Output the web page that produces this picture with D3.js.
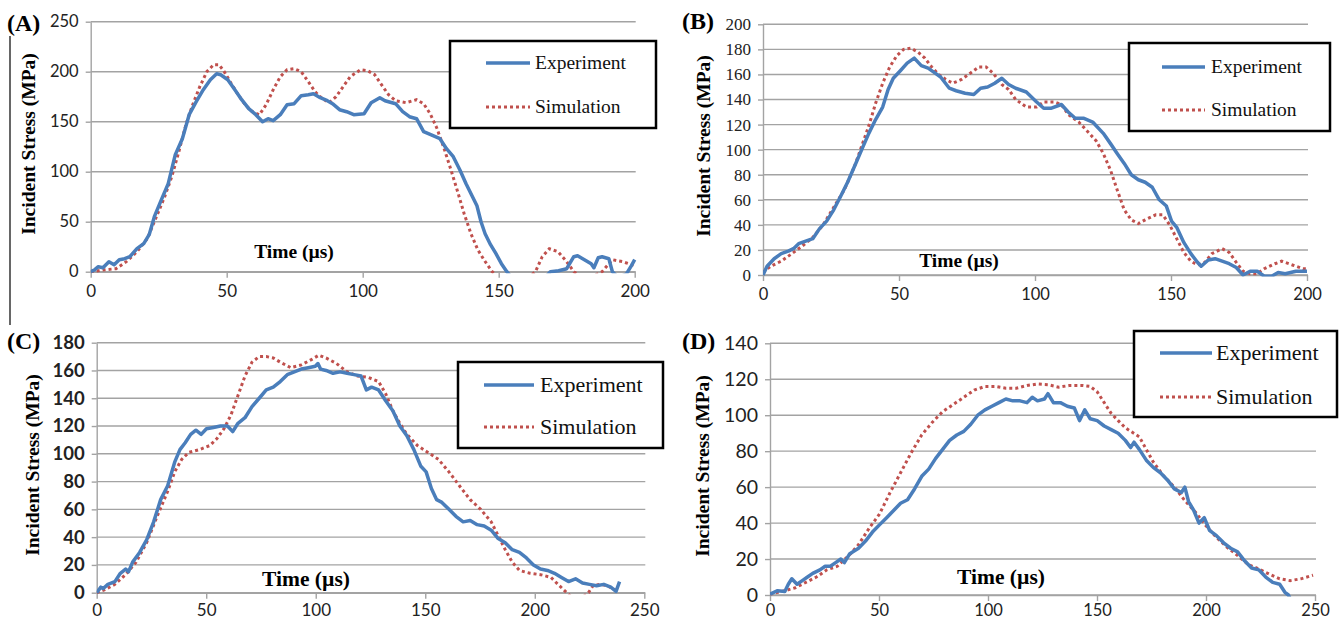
<!DOCTYPE html>
<html>
<head>
<meta charset="utf-8">
<script src="https://cdn.jsdelivr.net/npm/d3@7"></script>
<style>
body { margin: 0; background: #fff; }
</style>
</head>
<body>
<svg id="chart" width="1339" height="621"></svg>
<script>
// ---- data: [time (µs), incident stress (MPa)] ----
const seriesNames = ["Experiment", "Simulation"];

const xTicksA = [0, 50, 100, 150, 200];
const yTicksA = [0, 50, 100, 150, 200, 250];
const expA = [[0,0],[1.5,2],[2.8,5],[4.5,4],[6.7,10],[8.6,7],[10.5,12],[12.5,13],[14.4,15],[17,23],[19.5,28],[21.5,37],[23.4,55],[26,72],[28.5,88],[31.1,117],[33.7,133],[36.2,157],[38.8,170],[41.4,182],[44,192],[46.3,198],[47.8,197],[50.4,192],[53,182],[55.5,172],[58.1,163],[60.7,157],[63.2,150],[65.2,153],[67.1,151],[69.7,157],[72.2,167],[74.8,168],[77.4,176],[80,177],[81.9,178],[84.4,174],[87,171],[88.9,168],[91.5,162],[94.1,160],[96.7,157],[100.5,158],[103.1,169],[106.3,174],[108.2,171],[112.1,168],[114.7,160],[117.2,155],[119.8,153],[122.4,140],[125,137],[128.4,133],[130.8,123],[133.3,115],[135.7,102],[138,88],[140,77],[142,66],[143.5,50],[145,38],[147,27],[149,18],[151,8],[153,0],[156,-10],[162,-15],[167,-6],[169,0],[172,1],[175,3],[177.6,15],[179,16],[181.5,12],[184,8],[185,4],[186.6,14],[188,15],[190.5,13],[191.8,0],[194,-6],[197,-2],[198.8,6],[200,12]];
const simA = [[0,0],[5.4,2],[9.3,3],[13.1,10],[17,20],[20.8,33],[23.4,50],[27.2,75],[29.8,95],[32.4,120],[35,147],[37.5,167],[40.1,185],[42.7,200],[45.2,207],[47.2,207],[49.1,200],[51.7,188],[54.2,177],[56.8,167],[59.4,160],[62,157],[64.5,167],[67.1,182],[69.7,195],[72.2,202],[74.8,203],[77.4,200],[80,190],[82.5,180],[85.1,173],[87.7,169],[90.2,175],[92.8,185],[95.4,195],[99.2,202],[101.8,201],[104.4,197],[106.9,187],[109.5,177],[112.1,171],[115.9,169],[119.8,172],[122.4,168],[124.8,158],[127.2,144],[129.7,125],[132.2,104],[134.8,81],[137.3,58],[139.8,38],[142.3,22],[144.8,11],[147.6,0],[152,-10],[158,-12],[163.5,0],[166,15],[168.6,23],[171.8,20],[175,10],[177.6,0],[181,-6],[185,-4],[188,0],[191.8,12],[195.6,10],[200,6]];

const xTicksB = [0, 50, 100, 150, 200];
const yTicksB = [0, 20, 40, 60, 80, 100, 120, 140, 160, 180, 200];
const expB = [[0,0],[1.5,7],[4.1,13],[6.7,17],[9.3,19],[11.2,21],[13.1,25],[15.7,27],[18.3,29],[20.8,37],[23.4,43],[26,52],[28.6,63],[31.1,74],[33.7,87],[36.3,100],[38.9,113],[41.4,124],[44,134],[46,148],[47.9,157],[50.5,163],[53,169],[55.6,173],[58.2,167],[60.7,165],[63.3,161],[65.3,158],[68.5,149],[71,147],[74.3,145],[77.5,144],[80,149],[82.6,150],[85.2,153],[87.8,157],[90.3,152],[92.9,149],[96.8,146],[100.6,138],[103.2,133],[105.8,133],[109.7,136],[112.2,130],[114.8,125],[118,125],[121.2,122],[125.1,113],[127.7,105],[130.2,97],[132.8,89],[135.4,80],[138,76],[140.5,74],[143.1,70],[145.7,60],[148.3,55],[150.2,43],[152.1,38],[154.7,26],[157.3,17],[159.8,10],[161.1,7],[163.7,12],[166.2,13],[168.8,11],[171.4,9],[174,6],[176.5,0],[179.1,3],[181.7,3],[184.3,-1],[187,-1],[189.4,2],[192,1],[195.9,3],[200,3]];
const simB = [[0,2],[2.8,7],[6.7,11],[10.6,17],[14.4,23],[18.3,30],[22.1,40],[26,54],[29.9,68],[33.7,87],[36.3,103],[38.9,119],[41.4,137],[44,153],[46.6,166],[49.2,175],[51.7,180],[54.3,181],[56.9,178],[59.5,173],[62,166],[64.6,160],[67.2,156],[69.8,153],[73,156],[76.2,161],[79.4,166],[82,166],[84.6,161],[87.8,152],[90.3,148],[92.9,140],[96.8,134],[100.6,134],[103.2,138],[107.1,138],[109.7,136],[112.2,128],[116.1,122],[118.7,116],[122.5,107],[125.1,97],[127.7,84],[130.2,68],[132.8,52],[135.4,44],[138,41],[140.5,44],[144.4,48],[147,48],[149.5,40],[152.1,29],[154.7,18],[157.3,11],[159.8,8],[162.4,10],[165,17],[168.8,21],[171.4,18],[174,10],[176.5,3],[179.1,1],[181.7,1],[184.3,5],[188.2,9],[190.7,11],[194.6,8],[198.5,5],[200,5]];

const xTicksC = [0, 50, 100, 150, 200, 250];
const yTicksC = [0, 20, 40, 60, 80, 100, 120, 140, 160, 180];
const expC = [[0,0],[1.9,4],[3,3],[5.1,6],[8.3,8],[10.8,14],[13.2,17],[14.5,15],[16.4,22],[19.6,29],[22.8,38],[26,51],[29.2,67],[32.4,77],[35.6,94],[38,103],[40.4,108],[42.9,114],[45.3,117],[47.7,114],[50.1,118],[53.3,119],[56.5,120],[59.7,120],[62.1,116],[64.5,122],[67.7,126],[70.9,134],[74.2,140],[77.4,146],[80.6,148],[83.8,152],[87,157],[90.2,159],[93.4,161],[96.6,162],[99.8,163],[101,165],[102.2,161],[104.7,160],[107.9,158],[111.1,159],[114.3,158],[117.5,157],[120.7,156],[123.1,146],[125.5,148],[128.7,146],[132,138],[135.2,131],[138.4,120],[141.6,113],[144.8,103],[148,91],[150.4,87],[152.8,75],[155.2,67],[157.6,65],[160.8,60],[164,55],[167.3,51],[170.5,52],[173.7,49],[176.9,48],[180.1,45],[183.3,39],[186.5,36],[189.7,31],[193,29],[196.2,25],[199.4,20],[202.6,17],[205.8,16],[209,14],[212.2,11],[215.4,8],[218.6,10],[221.8,7],[225,6],[228.2,5],[231.5,6],[234.7,4],[237.1,1],[238.7,8]];
const simC = [[0,0],[3.5,2],[8.3,6],[13.2,13],[18,22],[22.8,36],[27.6,55],[32.4,73],[35.6,87],[38.8,96],[42,101],[46.9,103],[51.7,106],[54.9,111],[58.1,118],[61.3,128],[64.5,142],[67.7,156],[70.9,166],[74.2,170],[77.4,170],[80.6,169],[83.8,166],[88.6,162],[93.4,164],[98.2,168],[101.4,171],[104.7,169],[109.5,165],[114.3,159],[119.1,156],[124,155],[128.7,152],[132,143],[135.2,131],[138.4,122],[141.6,114],[146.4,106],[151.2,101],[156,96],[160.8,87],[165.6,77],[170.5,67],[175.3,60],[180.1,51],[183.3,41],[186.5,31],[189.7,22],[193,16],[197.8,14],[202.6,13],[207.4,11],[210.6,6],[214.6,0],[218,-5],[222,-3],[224.5,0],[226.6,5],[229.9,6],[233.1,5],[237.9,1]];

const xTicksD = [0, 50, 100, 150, 200, 250];
const yTicksD = [0, 20, 40, 60, 80, 100, 120, 140];
const expD = [[0,0.5],[3.5,2.4],[6.8,2],[8.4,6],[10,9],[12.4,6],[14.8,8],[17.2,10],[19.6,12],[22.9,14],[25.3,16],[27.7,16],[30.1,18],[32.5,20],[34.1,18],[36.6,23],[40.6,26],[43.8,30],[47,35],[50.2,39],[53.5,43],[56.7,47],[59.9,51],[63.1,53],[66.3,59],[69.6,66],[72.8,70],[76,76],[79.2,81],[82.4,86],[85.7,89],[88.9,91],[92.1,95],[95.3,100],[98.6,103],[101.8,105],[105,107],[108.2,109],[111.4,108],[114.7,108],[117.9,107],[120.3,110],[122.7,108],[125.9,109],[127.5,112],[130,107],[133.2,107],[136.4,105],[139.6,104],[142,97],[144.4,103],[146.9,98],[150.1,97],[153.3,94],[156.5,92],[159.7,90],[163,86],[165.4,82],[167,85],[169.4,81],[172.6,75],[175.8,71],[179.1,68],[182.3,64],[185.5,59],[188.7,57],[190.3,60],[192,52],[194.4,47],[196.8,40],[199.2,43],[201.6,36],[204.8,33],[208.1,29],[211.3,26],[214.5,24],[217.7,19],[220.9,15],[224.2,14],[227.4,10],[230.6,7],[233.8,6],[236.2,1.5],[237.8,0],[239,-3]];
const simD = [[0,0.5],[6.8,2.4],[11.6,4],[16.4,7],[21.3,10],[26.1,14],[30.9,16],[37,23],[40.6,28],[45.4,37],[50.2,45],[55.1,57],[59.9,68],[64.7,79],[69.6,89],[74.4,96],[79.2,102],[84.1,106],[88.9,110],[93.7,114],[98.6,116],[103.4,116],[108.2,115],[113,115],[117.9,116.5],[122.7,117.4],[127.5,117],[132.4,115.6],[137.2,116.5],[143.6,116.5],[146.9,116],[150.1,113],[153.3,107],[156.5,101],[159.7,97],[163,93],[166.2,90.5],[169.4,88],[172.6,81],[175.8,74],[180.7,66],[185.5,60],[190.3,52.5],[195.2,46],[199.9,38.6],[204.8,32],[209.7,26.5],[214.5,22],[219.3,17],[224.2,14.5],[228.9,11.7],[233.8,9],[238.6,8],[243.5,9],[249.1,11]];

// ---- layout ----
const blue = '#4a7ebb', red = '#c0504d', grid = '#a3a3a3';
const serif = '"Liberation Serif", "Times New Roman", serif';
const sans = 'Lato, "Liberation Sans", sans-serif';

const panels = [
  { label:'(A)', exp:expA, sim:simA, xTicks:xTicksA, yTicks:yTicksA,
    px:[90.7, 634.7], py:[271.7, 21.7], labelPos:[7, 31],
    yTitle:[28, 144, 19.5], xTitle:[294, 258, 19.5], tickFont:[sans, 16.5, 'normal'], xTickFs:17, xPad:7,
    legend:{x:450, y:41, w:206, h:87, l1:486, l2:530, tx:535, ey:63, sy:107, fs:19.5} },
  { label:'(B)', exp:expB, sim:simB, xTicks:xTicksB, yTicks:yTicksB,
    px:[763, 1307], py:[275, 24.3], labelPos:[682, 29],
    yTitle:[703, 146, 19.5], xTitle:[959, 267, 19.5], tickFont:[serif, 17, 'normal'], xTickFs:16.5, xPad:7,
    legend:{x:1129, y:43, w:201, h:88, l1:1162, l2:1205, tx:1211, ey:67, sy:110, fs:19.5} },
  { label:'(C)', exp:expC, sim:simC, xTicks:xTicksC, yTicks:yTicksC,
    px:[96.7, 644.3], py:[592.7, 342.7], labelPos:[7, 349],
    yTitle:[32, 465, 19.5], xTitle:[306, 586, 21.5], tickFont:[sans, 18.5, 'bold'], xTickFs:17, xPad:5,
    legend:{x:458, y:362, w:205, h:86, l1:484, l2:534, tx:540, ey:385, sy:427, fs:22} },
  { label:'(D)', exp:expD, sim:simD, xTicks:xTicksD, yTicks:yTicksD,
    px:[770, 1315], py:[595, 343.3], labelPos:[682, 349],
    yTitle:[702, 466, 19.5], xTitle:[1001, 584, 21.5], tickFont:[sans, 19.5, 'normal'], xTickFs:16.5, xPad:3,
    legend:{x:1134, y:331, w:203, h:86, l1:1160, l2:1212, tx:1216, ey:353, sy:397, fs:22} }
];

const svg = d3.select('#chart');
svg.append('rect').attr('width', 1339).attr('height', 621).attr('fill', '#fff');

// stray frame line at the left of panel A
svg.append('line').attr('x1', 10).attr('x2', 10).attr('y1', 36).attr('y2', 325)
  .attr('stroke', '#000').attr('stroke-width', 1.2);

panels.forEach((p, i) => {
  const x = d3.scaleLinear().domain([0, d3.max(p.xTicks)]).range(p.px);
  const y = d3.scaleLinear().domain([0, d3.max(p.yTicks)]).range(p.py);
  const g = svg.append('g');

  // horizontal gridlines
  g.append('g').selectAll('line').data(p.yTicks).join('line')
    .attr('x1', p.px[0]).attr('x2', p.px[1] + 1)
    .attr('y1', d => y(d)).attr('y2', d => y(d))
    .attr('stroke', grid).attr('stroke-width', 1.4);

  // y axis
  const yAxis = g.append('g').attr('transform', `translate(${p.px[0]},0)`)
    .call(d3.axisLeft(y).tickValues(p.yTicks).tickSize(5).tickSizeOuter(0).tickPadding(7));
  yAxis.select('.domain').attr('stroke', grid).attr('stroke-width', 1.4);
  yAxis.selectAll('.tick line').attr('stroke', grid).attr('stroke-width', 1.4);
  yAxis.selectAll('.tick text').attr('font-family', p.tickFont[0]).attr('font-size', p.tickFont[1])
    .attr('font-weight', p.tickFont[2]).attr('fill', '#222');

  // x axis
  const xAxis = g.append('g').attr('transform', `translate(0,${p.py[0]})`)
    .call(d3.axisBottom(x).tickValues(p.xTicks).tickSize(6).tickSizeOuter(0).tickPadding(p.xPad));
  xAxis.select('.domain').attr('stroke', grid).attr('stroke-width', 1.4);
  xAxis.selectAll('.tick line').attr('stroke', grid).attr('stroke-width', 1.4);
  xAxis.selectAll('.tick text').attr('font-family', sans).attr('font-size', p.xTickFs).attr('fill', '#222');

  // clip lines to the plot area (values below 0 are hidden, as in the original)
  const clipId = 'clip' + i;
  svg.append('clipPath').attr('id', clipId).append('rect')
    .attr('x', p.px[0]).attr('y', p.py[1] - 10)
    .attr('width', p.px[1] - p.px[0] + 3).attr('height', p.py[0] - p.py[1] + 11.5);

  const line = d3.line().x(d => x(d[0])).y(d => y(d[1]));
  const lines = g.append('g').attr('clip-path', `url(#${clipId})`);
  lines.append('path').attr('d', line(p.sim)).attr('fill', 'none')
    .attr('stroke', red).attr('stroke-width', 3).attr('stroke-dasharray', '3,3');
  lines.append('path').attr('d', line(p.exp)).attr('fill', 'none')
    .attr('stroke', blue).attr('stroke-width', 3.5).attr('stroke-linejoin', 'round');

  // titles
  g.append('text').attr('x', p.labelPos[0]).attr('y', p.labelPos[1])
    .attr('font-family', serif).attr('font-weight', 'bold').attr('font-size', 24).text(p.label);
  g.append('text').attr('transform', `translate(${p.yTitle[0]},${p.yTitle[1]}) rotate(-90)`)
    .attr('text-anchor', 'middle').attr('dy', '0.35em')
    .attr('font-family', serif).attr('font-weight', 'bold').attr('font-size', p.yTitle[2])
    .text('Incident Stress (MPa)');
  g.append('text').attr('x', p.xTitle[0]).attr('y', p.xTitle[1]).attr('text-anchor', 'middle')
    .attr('font-family', serif).attr('font-weight', 'bold').attr('font-size', p.xTitle[2])
    .text('Time (µs)');

  // legend
  const L = p.legend;
  const lg = g.append('g');
  lg.append('rect').attr('x', L.x).attr('y', L.y).attr('width', L.w).attr('height', L.h)
    .attr('fill', '#fff').attr('stroke', '#000').attr('stroke-width', 2.5);
  const entries = [
    { name: seriesNames[0], yy: L.ey, color: blue, dash: null, w: 3.5 },
    { name: seriesNames[1], yy: L.sy, color: red, dash: '3,3', w: 3 }
  ];
  entries.forEach(e => {
    lg.append('line').attr('x1', L.l1).attr('x2', L.l2).attr('y1', e.yy).attr('y2', e.yy)
      .attr('stroke', e.color).attr('stroke-width', e.w).attr('stroke-dasharray', e.dash);
    lg.append('text').attr('x', L.tx).attr('y', e.yy).attr('dy', '0.33em')
      .attr('font-family', serif).attr('font-size', L.fs).attr('fill', '#111').text(e.name);
  });
});
</script>
</body>
</html>
